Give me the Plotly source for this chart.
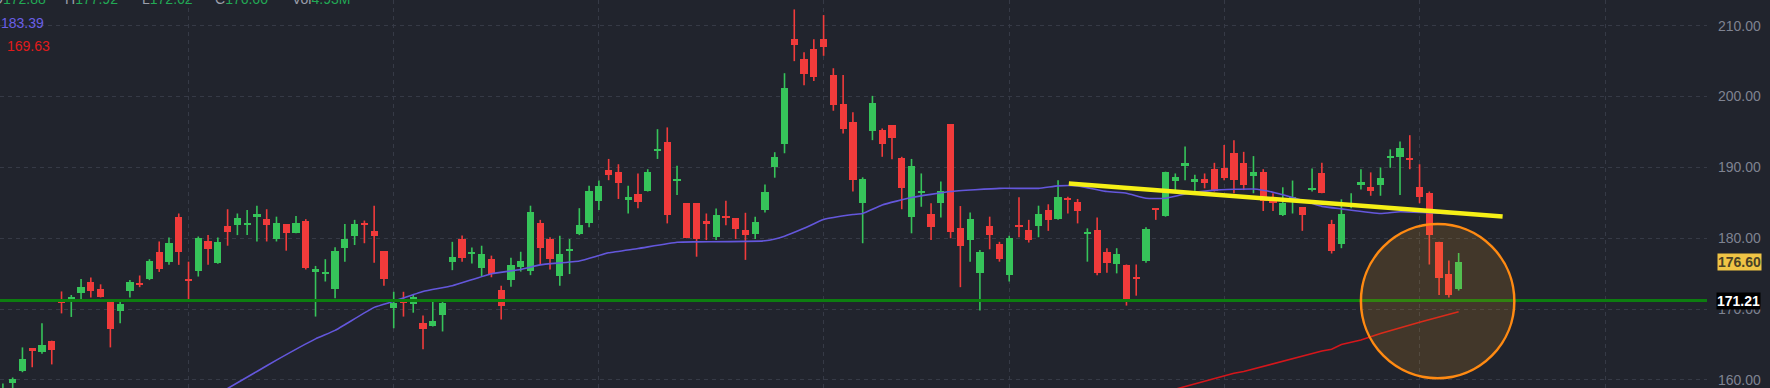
import plotly.graph_objects as go

# ---------------- data ----------------
candle_idx = list(range(-1, 149))
opens = [158.0, 159.6, 161.3, 164.4, 163.9, 165.5, 171.1, 171.4, 172.25, 173.8,
         172.85, 171.2, 169.75, 172.6, 173.6, 174.25, 178.0, 176.7, 183.05, 174.2,
         175.45, 179.6, 176.55, 181.75, 181.85, 182.0, 183.2, 182.7, 179.9, 181.95,
         180.7, 182.5, 175.4, 175.1, 172.8, 178.6, 180.35, 182.1, 181.0, 178.15,
         170.1, 171.2, 170.7, 168.1, 167.65, 169.2, 176.7, 179.9, 177.9, 175.75,
         177.05, 172.7, 174.1, 175.9, 175.45, 182.1, 179.85, 174.7, 178.3, 180.6,
         182.2, 185.3, 189.7, 189.3, 185.6, 186.25, 186.7, 192.45, 193.65, 188.2,
         184.95, 184.95, 182.3, 180.25, 183.1, 182.85, 181.15, 180.6, 184.0, 190.1,
         193.3, 208.1, 205.3, 206.65, 208.1, 203.05, 198.9, 196.45, 185.05, 195.2,
         195.35, 196.0, 191.3, 182.95, 186.5, 183.4, 185.0, 196.1, 181.4, 179.75,
         175.05, 181.8, 179.15, 174.8, 181.8, 181.15, 181.8, 184.0, 182.7, 185.6,
         185.15, 180.75, 181.15, 178.0, 176.35, 176.3, 174.5, 176.85, 184.2, 183.15,
         188.1, 190.2, 187.9, 188.35, 189.75, 189.85, 192.0, 190.65, 188.85, 189.3,
         185.2, 183.3, 185.6, 184.35, 186.95, 189.15, 181.95, 179.2, 184.6, 187.7,
         187.2, 187.5, 191.5, 191.5, 191.3, 187.2, 186.35, 179.5, 174.95, 172.88]
highs = [159.5, 160.35, 164.6, 164.5, 168.0, 165.55, 172.5, 172.0, 174.25, 174.45,
         173.5, 171.2, 171.2, 174.1, 174.75, 177.05, 179.55, 180.1, 183.5, 176.7,
         180.25, 180.45, 180.1, 184.1, 183.5, 184.0, 184.6, 184.1, 183.05, 181.95,
         183.15, 182.7, 176.1, 177.05, 178.75, 182.0, 182.6, 182.5, 184.6, 178.15,
         172.45, 172.45, 172.0, 169.1, 171.05, 171.05, 179.5, 180.4, 178.7, 178.95,
         177.55, 173.3, 177.25, 178.1, 184.6, 182.6, 180.15, 180.35, 179.9, 184.25,
         187.4, 188.15, 191.2, 190.45, 187.4, 189.15, 189.75, 195.4, 195.65, 190.25,
         184.95, 184.95, 183.5, 184.2, 185.3, 182.85, 183.6, 183.05, 187.6, 192.15,
         203.3, 212.3, 206.25, 208.1, 211.5, 204.0, 203.05, 197.8, 188.6, 200.1,
         195.5, 196.0, 191.5, 191.2, 189.15, 184.95, 188.0, 196.1, 184.55, 183.65,
         178.35, 183.05, 179.5, 180.35, 185.8, 182.6, 184.6, 184.8, 188.2, 185.85,
         185.55, 181.4, 182.95, 178.6, 178.6, 176.3, 176.3, 181.55, 184.2, 189.4,
         189.15, 192.95, 188.95, 189.15, 190.65, 193.15, 193.85, 192.2, 191.6, 189.75,
         186.35, 187.2, 188.15, 184.35, 189.85, 190.65, 182.6, 185.5, 186.35, 189.75,
         189.3, 190.0, 192.55, 193.65, 194.55, 190.45, 186.6, 179.5, 176.85, 177.92]
lows = [157.6, 158.8, 161.1, 161.8, 163.7, 162.2, 169.4, 168.9, 171.05, 171.65,
        171.65, 164.6, 168.0, 171.65, 173.1, 174.1, 175.25, 176.25, 176.25, 171.05,
        174.6, 176.25, 176.4, 178.95, 180.45, 180.45, 179.55, 179.55, 179.55, 178.25,
        180.7, 175.6, 168.95, 173.9, 171.55, 176.7, 179.05, 179.3, 176.55, 173.3,
        167.3, 168.95, 169.5, 164.35, 167.55, 166.85, 175.5, 176.7, 176.45, 174.6,
        174.5, 168.55, 173.15, 175.3, 174.8, 176.25, 175.6, 173.3, 174.95, 180.45,
        181.55, 184.0, 188.2, 185.55, 183.5, 184.25, 186.6, 191.2, 182.1, 186.1,
        180.0, 177.4, 179.75, 179.75, 181.85, 179.9, 176.95, 179.9, 183.65, 188.55,
        192.0, 205.0, 201.6, 202.2, 205.75, 198.0, 194.8, 186.6, 179.3, 193.85,
        191.5, 191.15, 184.1, 180.7, 184.45, 179.75, 182.95, 180.0, 173.1, 176.7,
        169.8, 178.45, 176.7, 173.9, 180.15, 179.4, 180.15, 181.05, 182.6, 183.5,
        182.1, 176.7, 174.8, 175.15, 175.05, 170.5, 171.9, 176.55, 182.6, 183.05,
        186.7, 188.2, 186.7, 187.05, 186.6, 188.2, 186.35, 186.8, 186.35, 183.85,
        183.85, 183.15, 183.5, 181.05, 186.6, 186.35, 177.85, 178.6, 184.25, 186.9,
        186.0, 186.0, 189.95, 186.1, 189.75, 184.95, 176.3, 172.0, 171.65, 172.62]
closes = [158.85, 160.1, 162.9, 164.3, 165.0, 164.3, 171.0, 171.65, 173.1, 172.6,
          171.65, 167.15, 170.75, 173.85, 173.5, 176.85, 175.6, 179.3, 178.1, 174.1,
          180.05, 178.45, 179.5, 180.9, 182.85, 182.2, 183.3, 181.85, 182.1, 180.7,
          182.1, 175.75, 175.55, 175.2, 178.15, 179.85, 181.95, 182.0, 180.35, 174.3,
          170.85, 170.9, 171.75, 167.15, 168.35, 170.85, 177.4, 177.25, 178.0, 177.8,
          174.95, 170.5, 176.25, 176.85, 183.65, 178.6, 177.05, 177.8, 178.4, 181.85,
          186.65, 187.4, 188.95, 187.85, 185.7, 185.15, 189.3, 192.6, 183.3, 188.35,
          180.1, 179.9, 182.2, 183.25, 183.0, 181.25, 180.45, 182.25, 186.5, 191.5,
          201.15, 207.3, 203.15, 202.8, 207.05, 198.8, 195.4, 188.2, 188.35, 199.15,
          193.3, 194.1, 187.15, 190.25, 186.6, 181.65, 186.7, 180.85, 178.95, 182.7,
          178.0, 180.45, 177.1, 180.1, 181.7, 179.75, 183.4, 182.6, 185.8, 185.5,
          183.9, 180.9, 175.15, 176.55, 177.8, 171.05, 174.4, 181.25, 184.1, 189.4,
          188.7, 190.65, 188.35, 187.75, 186.7, 188.45, 188.2, 187.5, 189.3, 185.3,
          185.1, 184.95, 185.7, 183.3, 187.1, 186.35, 178.25, 183.4, 184.7, 187.8,
          186.7, 188.55, 191.6, 192.7, 191.2, 185.8, 180.45, 174.4, 172.0, 176.60]

# moving averages at these candle positions
ma_fast_idx = [22, 25, 27, 31, 33, 37, 39, 42, 45, 49, 52, 54, 58, 61, 64, 68, 70, 77,
               79, 81, 83, 86, 87, 89, 92, 96, 101, 105, 107, 109, 112, 114, 116, 118,
               120, 123, 127, 129, 131, 134, 136, 140, 142, 145, 148]
ma_fast_val = [158.8, 161.2, 162.8, 165.8, 167.0, 170.25, 171.1, 172.5, 173.3, 175.0,
               175.6, 176.25, 176.8, 177.95, 178.55, 179.43, 179.5, 179.65, 180.3, 181.4,
               182.65, 183.35, 183.5, 184.7, 185.75, 186.6, 187.05, 187.05, 187.4, 187.4,
               186.6, 186.35, 185.65, 185.65, 186.25, 186.8, 186.95, 186.5, 185.75, 184.5,
               184.15, 183.5, 183.75, 183.6, 183.39]
ma_slow_idx = [119, 125, 126, 134, 135, 136, 138, 140, 144, 148]
ma_slow_val = [158.7, 160.95, 161.2, 164.1, 164.35, 165.0, 165.65, 166.55, 168.15, 169.63]

support_level = 171.21
last_close = 176.60
trend_idx = [108.1, 152.5]
trend_val = [187.73, 183.07]
month_start_idx = [18, 39, 60, 83, 102, 124, 144, 163]
price_ticks = [160, 170, 180, 190, 200, 210]
legend_keys = ["O", "H", "L", "C", "Vol"]
legend_vals = ["172.88", "177.92", "172.62", "176.60", "4.93M"]

# ---------------- styling ----------------
BG = "#21242d"
GRID = "#363a46"
UP = "#36c45a"
DOWN = "#f13b3b"
W, H = 1770, 388
ML, MR = 0, 63
PLOT_W = W - ML - MR

x_range = [-1.297, 173.42]
y_range = [158.87, 213.63]

def px_x(p):
    return p / PLOT_W

def px_y(p):
    return 1 - p / H

fig = go.Figure()

# wicks
for col, cond in ((UP, True), (DOWN, False)):
    xs, ys = [], []
    for i, o, h, l, c in zip(candle_idx, opens, highs, lows, closes):
        if (c >= o) == cond:
            xs += [i, i, None]
            ys += [l, h, None]
    fig.add_trace(go.Scatter(x=xs, y=ys, mode="lines", line=dict(color=col, width=1.6),
                             hoverinfo="skip", showlegend=False))

# bodies
bases, heights, colors = [], [], []
for o, c in zip(opens, closes):
    lo, hi = min(o, c), max(o, c)
    hgt = max(hi - lo, 0.25)
    bases.append((lo + hi) / 2 - hgt / 2)
    heights.append(hgt)
    colors.append(UP if c >= o else DOWN)
fig.add_trace(go.Bar(x=candle_idx, y=heights, base=bases, width=0.74,
                     marker=dict(color=colors, line=dict(width=0)),
                     hoverinfo="skip", showlegend=False))

# moving averages
fig.add_trace(go.Scatter(x=ma_fast_idx, y=ma_fast_val, mode="lines",
                         line=dict(color="#6457dc", width=1.6, shape="spline", smoothing=0.4),
                         hoverinfo="skip", showlegend=False))
fig.add_trace(go.Scatter(x=ma_slow_idx, y=ma_slow_val, mode="lines",
                         line=dict(color="#d4161b", width=1.6),
                         hoverinfo="skip", showlegend=False))

# trend line
fig.add_trace(go.Scatter(x=trend_idx, y=trend_val, mode="lines",
                         line=dict(color="#f6f016", width=4.5),
                         hoverinfo="skip", showlegend=False))

# support line
fig.add_shape(type="line", xref="paper", x0=0, x1=1, yref="y", y0=support_level, y1=support_level,
              line=dict(color="#0d7d10", width=3), layer="above")

# highlight circle
fig.add_shape(type="circle", xref="x", yref="y", x0=138.0, x1=153.7, y0=160.25, y1=182.0,
              fillcolor="rgba(255,170,30,0.15)", line=dict(color="#ff8a12", width=2.5),
              layer="above")

# price labels on the axis
fig.add_annotation(xref="paper", yref="y", x=px_x(1739), y=last_close, text="<b>%.2f</b>" % last_close,
                   showarrow=False, xanchor="center", yanchor="middle", bgcolor="#f0c445",
                   font=dict(family="Liberation Sans", size=14, color="#4a4226"), borderpad=0)
fig.add_annotation(xref="paper", yref="y", x=px_x(1738), y=support_level, text="<b>%.2f</b>" % support_level,
                   showarrow=False, xanchor="center", yanchor="middle", bgcolor="#000000",
                   font=dict(family="Liberation Sans", size=14, color="#ffffff"), borderpad=0)

# MA value labels
fig.add_annotation(xref="paper", yref="paper", x=px_x(-1), y=px_y(22.5), text="%.2f" % ma_fast_val[-1],
                   showarrow=False, xanchor="left", yanchor="middle",
                   font=dict(family="Liberation Sans", size=14, color="#6a5fe6"))
fig.add_annotation(xref="paper", yref="paper", x=px_x(5), y=px_y(46), text="%.2f" % ma_slow_val[-1],
                   showarrow=False, xanchor="left", yanchor="middle",
                   font=dict(family="Liberation Sans", size=14, color="#e01b1b"))

# OHLC legend (cut at top)
leg_x = [-10, 63, 140, 213, 290]
for k, v, lx in zip(legend_keys, legend_vals, leg_x):
    fig.add_annotation(xref="paper", yref="paper", x=px_x(lx), y=px_y(-1.5),
                       text="<span style='color:#9a9eaa'>%s</span><span style='color:#22a955'>%s</span>" % (k, v),
                       showarrow=False, xanchor="left", yanchor="middle",
                       font=dict(family="Liberation Sans", size=14))

fig.update_layout(
    width=W, height=H,
    margin=dict(l=ML, r=MR, t=0, b=0),
    paper_bgcolor=BG, plot_bgcolor=BG,
    barmode="overlay", bargap=0, showlegend=False,
    xaxis=dict(range=x_range, tickvals=month_start_idx, showticklabels=False, ticks="",
               showgrid=True, gridcolor=GRID, griddash="4px,4px", gridwidth=1,
               zeroline=False, showline=False, fixedrange=True),
    yaxis=dict(range=y_range, side="right", tickvals=price_ticks,
               ticktext=["%.2f" % t for t in price_ticks], ticks="", ticklabelstandoff=10,
               tickfont=dict(family="Liberation Sans", size=14, color="#7f8391"),
               showgrid=True, gridcolor=GRID, griddash="4px,4px", gridwidth=1,
               zeroline=False, showline=False, fixedrange=True),
)

fig.write_html("out.html", config={"displayModeBar": False})
